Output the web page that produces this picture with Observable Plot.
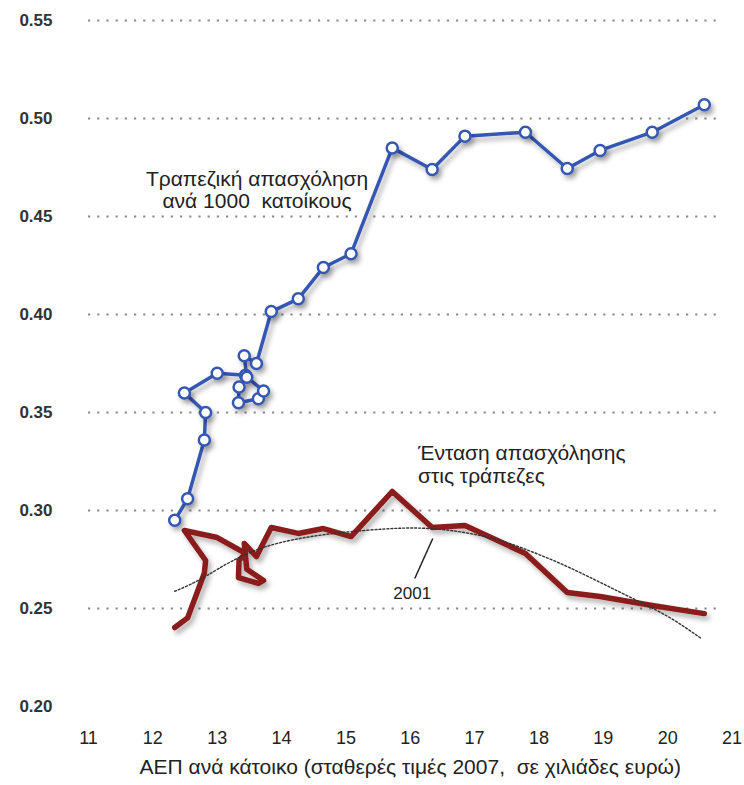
<!DOCTYPE html>
<html><head><meta charset="utf-8">
<script src="https://cdn.jsdelivr.net/npm/d3@7"></script>
<script src="https://cdn.jsdelivr.net/npm/@observablehq/plot@0.6"></script>
<style>
body{margin:0;background:#fff;}
#chart svg{display:block;}
</style>
</head><body><div id="chart"></div>
<script>
// GDP per capita (constant 2007 prices, thousand euro) — shared x for both series
const gdp = [12.34, 12.54, 12.80, 12.82, 12.49, 13.00, 13.44, 13.34, 13.33, 13.64, 13.72, 13.46, 13.42, 13.61,
             13.84, 14.26, 14.65, 15.08, 15.72, 16.34, 16.85, 17.79, 18.44, 18.95, 19.76, 20.57];
// Bank employment per 1000 inhabitants (blue)
const bankEmployment = [0.295, 0.306, 0.336, 0.350, 0.360, 0.370, 0.369, 0.363, 0.355, 0.357, 0.361, 0.368, 0.379, 0.375,
             0.4015, 0.408, 0.424, 0.431, 0.485, 0.474, 0.491, 0.493, 0.4745, 0.4837, 0.493, 0.507];
// Employment intensity in banks (red)
const employmentIntensity = [0.2403, 0.2452, 0.268, 0.2745, 0.2898, 0.2862, 0.2781, 0.2745, 0.2658, 0.2628, 0.2643, 0.2700, 0.2832, 0.2765,
             0.2913, 0.2883, 0.2908, 0.2867, 0.3097, 0.2913, 0.2923, 0.2781, 0.2582, 0.2561, 0.2515, 0.2474];
// Dotted trend curve
const trendX = [12.34, 12.84, 13.81, 15.28, 16.35, 17.20, 17.76, 18.33, 18.89, 19.46, 20.02, 20.53];
const trendY = [0.2588, 0.2668, 0.2821, 0.2898, 0.2907, 0.2864, 0.2806, 0.2730, 0.2643, 0.2551, 0.2456, 0.2345];

const yTicks = [0.20, 0.25, 0.30, 0.35, 0.40, 0.45, 0.50, 0.55];
const xTicks = [11, 12, 13, 14, 15, 16, 17, 18, 19, 20, 21];
const gridY = [0.25, 0.30, 0.35, 0.40, 0.45, 0.50, 0.55];
const xTitle = "ΑΕΠ ανά κάτοικο (σταθερές τιμές 2007,  σε χιλιάδες ευρώ)";

const blueLabel = [{x: 13.62, y: 0.4635, text: "Τραπεζική απασχόληση\nανά 1000  κατοίκους"}];
const redLabel = [{x: 16.12, y: 0.3235, text: "Ένταση απασχόλησης\nστις τράπεζες"}];
const yearNote = [{x1: 16.35, y1: 0.2857, x2: 16.07, y2: 0.2653, lx: 16.03, ly: 0.2577, text: "2001"}];

const idx = d3.range(gdp.length);
const tIdx = d3.range(trendX.length);
const BLUE = "#3557b2", RED = "#8b1a1a";

const chart = Plot.plot({
  width: 744, height: 785,
  marginLeft: 88, marginRight: 12.5, marginTop: 20, marginBottom: 79,
  style: {fontFamily: "Liberation Sans, Arial, sans-serif", background: "#fff"},
  x: {domain: [11, 21]},
  y: {domain: [0.20, 0.55]},
  marks: [
    Plot.ruleY(gridY, {x1: 11, x2: 20.85, stroke: "#8a8a8a", strokeWidth: 2.2, strokeDasharray: "2.2,7"}),
    Plot.axisY(yTicks, {tickSize: 0, tickPadding: 36, tickFormat: d3.format(".2f"), fontSize: 17, fontWeight: "bold", fill: "#333", label: null}),
    Plot.axisX(xTicks, {tickSize: 0, tickPadding: 25, fontSize: 18, fill: "#222", label: null}),
    Plot.text([xTitle], {frameAnchor: "bottom", dy: 67, fontSize: 21, fill: "#222"}),
    Plot.line(idx, {x: i => gdp[i], y: i => employmentIntensity[i], stroke: RED, strokeWidth: 5.5, strokeLinejoin: "round", ariaDescription: "shadow"}),
    Plot.line(tIdx, {x: i => trendX[i], y: i => trendY[i], curve: "natural", stroke: "#333", strokeWidth: 1.4, strokeDasharray: "2,2"}),
    Plot.line(idx, {x: i => gdp[i], y: i => bankEmployment[i], stroke: BLUE, strokeWidth: 3.5, strokeLinejoin: "round", ariaDescription: "shadow"}),
    Plot.dot(idx, {x: i => gdp[i], y: i => bankEmployment[i], r: 5.5, fill: "white", stroke: BLUE, strokeWidth: 2.5, ariaDescription: "shadow"}),
    Plot.text(blueLabel, {x: "x", y: "y", text: "text", textAnchor: "middle", lineAnchor: "middle", fontSize: 21, fill: "#222", lineHeight: 1.05}),
    Plot.text(redLabel, {x: "x", y: "y", text: "text", textAnchor: "start", lineAnchor: "middle", fontSize: 21, fill: "#222", lineHeight: 1.1}),
    Plot.link(yearNote, {x1: "x1", y1: "y1", x2: "x2", y2: "y2", stroke: "#222", strokeWidth: 1.5}),
    Plot.text(yearNote, {x: "lx", y: "ly", text: "text", fontSize: 17, fill: "#222"})
  ]
});

// drop shadow like the original
const svg = d3.select(chart);
svg.insert("defs", ":first-child").html('<filter id="shadow" x="-10%" y="-10%" width="130%" height="130%"><feDropShadow dx="3" dy="4" stdDeviation="2.5" flood-color="#000" flood-opacity="0.3"/></filter>');
svg.selectAll('g[aria-description="shadow"]').attr("filter", "url(#shadow)");
document.getElementById("chart").append(chart);
</script>
</body></html>
